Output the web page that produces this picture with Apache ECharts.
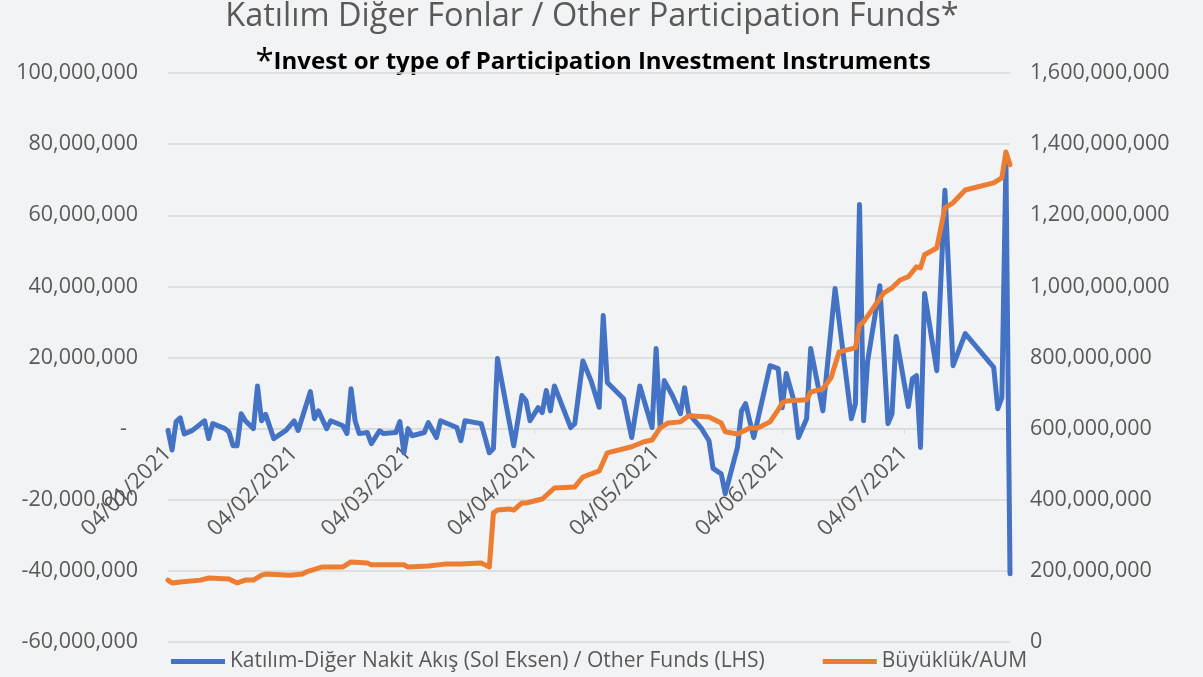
<!DOCTYPE html>
<html>
<head>
<meta charset="utf-8">
<script src="https://cdn.jsdelivr.net/npm/echarts@6/dist/echarts.min.js"></script>
<style>
    html, body { margin: 0; padding: 0; background: #f2f3f5; }
    #chart { width: 1203px; height: 677px; }
</style>
</head>
<body>
<div id="chart"></div>
<script>
// net flows (left axis), millions TRY
var flowDates = ['2021-01-04','2021-01-05','2021-01-06','2021-01-07','2021-01-08','2021-01-10','2021-01-13','2021-01-14','2021-01-15','2021-01-18',
    '2021-01-19','2021-01-20','2021-01-21','2021-01-22','2021-01-23','2021-01-25','2021-01-26','2021-01-27','2021-01-28','2021-01-30',
    '2021-02-02','2021-02-04','2021-02-05','2021-02-08','2021-02-09','2021-02-10','2021-02-12','2021-02-13','2021-02-16','2021-02-17',
    '2021-02-18','2021-02-19','2021-02-20','2021-02-22','2021-02-23','2021-02-25','2021-02-26','2021-03-01','2021-03-02','2021-03-03',
    '2021-03-04','2021-03-05','2021-03-08','2021-03-09','2021-03-11','2021-03-12','2021-03-16','2021-03-17','2021-03-18','2021-03-22',
    '2021-03-24','2021-03-25','2021-03-26','2021-03-30','2021-04-01','2021-04-02','2021-04-03','2021-04-05','2021-04-06','2021-04-07',
    '2021-04-08','2021-04-09','2021-04-13','2021-04-14','2021-04-16','2021-04-18','2021-04-20','2021-04-21','2021-04-22','2021-04-26',
    '2021-04-28','2021-04-30','2021-05-02','2021-05-03','2021-05-04','2021-05-05','2021-05-06','2021-05-08','2021-05-10','2021-05-11',
    '2021-05-12','2021-05-15','2021-05-17','2021-05-18','2021-05-20','2021-05-21','2021-05-24','2021-05-25','2021-05-26','2021-05-28',
    '2021-06-01','2021-06-03','2021-06-04','2021-06-05','2021-06-07','2021-06-08','2021-06-10','2021-06-11','2021-06-14','2021-06-17',
    '2021-06-21','2021-06-22','2021-06-23','2021-06-24','2021-06-25','2021-06-28','2021-06-30','2021-07-01','2021-07-02','2021-07-05',
    '2021-07-06','2021-07-07','2021-07-08','2021-07-09','2021-07-12','2021-07-14','2021-07-16','2021-07-19','2021-07-26','2021-07-27',
    '2021-07-28','2021-07-29','2021-07-30'];
var flowValues = [-0.5, -6, 2, 3, -1.5, -0.5, 2.2, -2.8, 1.4, 0,
    -1, -4.8, -4.8, 4.2, 2.2, 0, 12, 2.2, 4, -2.8,
    -0.5, 2.2, -0.5, 10.4, 2.8, 5, 0, 2.2, 0.8, -1.4,
    11.2, 2.2, -1.4, -1.1, -4.2, -0.6, -1.4, -1.1, 2, -6.8,
    0, -2, -1.1, 1.7, -2.5, 2.2, 0.3, -3.4, 2.2, 1.4,
    -6.8, -5.6, 19.7, -4.8, 9.3, 7.9, 2.2, 5.9, 4.5, 10.7,
    5, 12, 0.3, 1.4, 19, 13.5, 6, 31.8, 13, 8.4,
    -2.5, 12, 4.2, 0.3, 22.5, 0.3, 13.5, 9.3, 4.2, 11.5,
    4.2, 0.3, -3.4, -11.2, -12.7, -18.3, -5.3, 5, 7, -2.5,
    17.7, 16.9, 5.9, 15.5, 7.3, -2.5, 2.8, 22.5, 5, 39.4,
    2.8, 7, 63, 2.2, 19, 40.2, 1.4, 4.2, 25.9, 6.2,
    14, 14.9, -5.3, 38, 16.3, 67, 17.7, 26.7, 17.2, 5.6,
    8.7, 75, -40.8];

// assets under management (right axis), millions TRY
var aumDates = ['2021-01-04','2021-01-05','2021-01-07','2021-01-12','2021-01-14','2021-01-19','2021-01-21','2021-01-23','2021-01-25','2021-01-27',
    '2021-01-28','2021-02-03','2021-02-06','2021-02-07','2021-02-11','2021-02-16','2021-02-18','2021-02-22','2021-02-23','2021-03-03',
    '2021-03-04','2021-03-09','2021-03-13','2021-03-17','2021-03-22','2021-03-24','2021-03-25','2021-03-26','2021-03-29','2021-03-30',
    '2021-04-01','2021-04-02','2021-04-06','2021-04-09','2021-04-14','2021-04-16','2021-04-20','2021-04-22','2021-04-28','2021-05-01',
    '2021-05-03','2021-05-05','2021-05-07','2021-05-10','2021-05-12','2021-05-17','2021-05-20','2021-05-21','2021-05-24','2021-05-27',
    '2021-05-29','2021-06-01','2021-06-03','2021-06-04','2021-06-05','2021-06-10','2021-06-11','2021-06-14','2021-06-16','2021-06-18',
    '2021-06-22','2021-06-23','2021-06-24','2021-06-29','2021-07-01','2021-07-03','2021-07-05','2021-07-07','2021-07-08','2021-07-09',
    '2021-07-12','2021-07-14','2021-07-16','2021-07-19','2021-07-26','2021-07-28','2021-07-29','2021-07-30'];
var aumValues = [174, 166, 169, 174, 180, 177, 166, 174, 174, 188,
    191, 188, 191, 197, 211, 211, 225, 222, 217, 217,
    211, 214, 219, 219, 222, 211, 363, 371, 374, 371,
    391, 391, 402, 433, 436, 464, 481, 532, 549, 563,
    568, 602, 616, 619, 636, 633, 616, 591, 585, 602,
    602, 619, 653, 672, 678, 681, 703, 712, 743, 816,
    827, 892, 900, 982, 996, 1018, 1027, 1055, 1052, 1089,
    1108, 1221, 1235, 1271, 1291, 1305, 1378, 1342];

var tickDates = ['2021-01-04','2021-02-04','2021-03-04','2021-04-04','2021-05-04','2021-06-04','2021-07-04'];

var seriesNames = ['Katılım-Diğer Nakit Akış (Sol Eksen) / Other Funds (LHS)', 'Büyüklük/AUM'];

function toTime(s) {
    var p = s.split('-');
    return new Date(+p[0], +p[1] - 1, +p[2]).getTime();
}
function pad(n) { return n < 10 ? '0' + n : '' + n; }
function fmtNum(v) {
    return Math.round(v * 1e6).toLocaleString('en-US');
}

var textColor = '#595959';
var fontFam = '"Open Sans", "Noto Sans", sans-serif';

var chart = echarts.init(document.getElementById('chart'));
var option = {
    backgroundColor: '#f2f3f5',
    animation: false,
    graphic: [
        {
            type: 'text', x: 592, y: 0,
            style: { text: 'Katılım Diğer Fonlar / Other Participation Funds*', textAlign: 'center', fill: textColor, font: '32.5px ' + fontFam }
        },
        {
            type: 'text', x: 593, y: 46,
            style: {
                text: '{a|*}{b|Invest or type of Participation Investment Instruments}',
                textAlign: 'center',
                rich: {
                    a: { fontSize: 33, fontFamily: fontFam, color: textColor, verticalAlign: 'top' },
                    b: { fontSize: 24, fontWeight: 'bold', fontFamily: fontFam, color: textColor }
                }
            }
        }
    ],
    legend: {
        bottom: 0, left: 166,
        itemWidth: 54, itemHeight: 5, itemGap: 58,
        icon: 'rect',
        textStyle: { color: textColor, fontSize: 21, fontFamily: fontFam },
        data: seriesNames
    },
    grid: { left: 168, right: 193, top: 73, bottom: 35, containLabel: false, outerBoundsMode: 'none' },
    xAxis: {
        type: 'value',
        min: toTime('2021-01-04'),
        max: toTime('2021-07-30'),
        // sits on the left axis zero line
        offset: -214,
        axisLine: { onZero: false, lineStyle: { color: '#d9d9d9' } },
        axisTick: { show: true, length: 6, lineStyle: { color: '#d9d9d9' }, customValues: tickDates.map(toTime) },
        splitLine: { show: false },
        axisLabel: {
            rotate: 45, margin: 22,
            color: textColor, fontSize: 22, fontFamily: fontFam,
            customValues: tickDates.map(toTime),
            formatter: function (v) {
                var d = new Date(v);
                return pad(d.getDate()) + '/' + pad(d.getMonth() + 1) + '/' + d.getFullYear();
            }
        }
    },
    yAxis: [
        {
            type: 'value', min: -60, max: 100, interval: 20,
            axisLine: { show: false, onZero: false }, axisTick: { show: false },
            splitLine: { lineStyle: { color: '#d9d9d9', width: 1.5 } },
            axisLabel: {
                margin: 30, color: textColor, fontSize: 21.5, fontFamily: fontFam,
                formatter: function (v) { return v === 0 ? '-  ' : fmtNum(v); }
            }
        },
        {
            type: 'value', min: 0, max: 1600, interval: 200,
            axisLine: { show: false, onZero: false }, axisTick: { show: false },
            splitLine: { show: false },
            axisLabel: {
                margin: 20, color: textColor, fontSize: 21.5, fontFamily: fontFam,
                formatter: function (v) { return fmtNum(v); }
            }
        }
    ],
    series: [
        {
            name: seriesNames[0], type: 'line', yAxisIndex: 0,
            showSymbol: false, symbol: 'none',
            itemStyle: { color: '#4472c4' },
            lineStyle: { color: '#4472c4', width: 5, cap: 'round', join: 'round' },
            data: flowDates.map(function (d, i) { return [toTime(d), flowValues[i]]; })
        },
        {
            name: seriesNames[1], type: 'line', yAxisIndex: 1,
            showSymbol: false, symbol: 'none',
            itemStyle: { color: '#ed7d31' },
            lineStyle: { color: '#ed7d31', width: 5, cap: 'round', join: 'round' },
            data: aumDates.map(function (d, i) { return [toTime(d), aumValues[i]]; })
        }
    ]
};
chart.setOption(option);
</script>
</body>
</html>
